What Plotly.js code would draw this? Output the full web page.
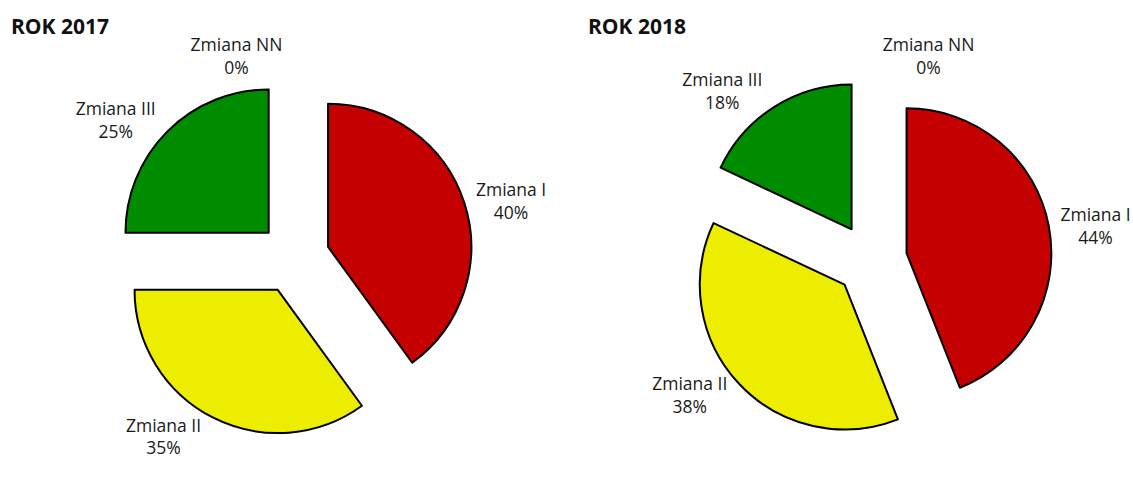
<!DOCTYPE html>
<html>
<head>
<meta charset="utf-8">
<script src="https://cdn.plot.ly/plotly-3.0.1.min.js"></script>
<style>
  html, body { margin: 0; padding: 0; background: #fff; }
  #chart { width: 1133px; height: 484px; }
</style>
</head>
<body>
<div id="chart"></div>
<script>
// shift names and shares for both years
var shifts = ["Zmiana I", "Zmiana II", "Zmiana III", "Zmiana NN"];
var values_2017 = [40, 35, 25, 0];
var values_2018 = [44, 38, 18, 0];
var colors = ["#c40000", "#eded00", "#008c00", "#7f7f7f"];

// one pie per year, every slice pulled out like in the workbook
function makePie(vals, domX, domY) {
    return {
        type: "pie",
        labels: shifts,
        values: vals,
        sort: false,
        direction: "clockwise",
        rotation: 0,
        pull: [0.25, 0.25, 0.25, 0.25],
        // the empty NN slice gets no outline, otherwise a stray line shows up
        marker: {colors: colors, line: {color: "#000", width: [2, 2, 2, 0]}},
        textposition: "outside",
        texttemplate: "%{label}<br>%{percent:.0%}",
        textfont: {family: "Open Sans", size: 17.5, color: "#1a1a1a"},
        hoverinfo: "label+percent",
        showlegend: false,
        domain: {x: domX, y: domY}
    };
}

var data = [
    makePie(values_2017, [0.1015, 0.4175], [0.097, 0.837]),
    makePie(values_2018, [0.609, 0.9285], [0.089, 0.837])
];

var layout = {
    width: 1133,
    height: 484,
    margin: {l: 0, r: 0, t: 0, b: 0},
    paper_bgcolor: "#fff",
    font: {family: "Open Sans"},
    annotations: [
        {text: "<b>ROK 2017</b>", x: 9 / 1133, y: 1 - 10 / 484, xref: "paper", yref: "paper",
         xanchor: "left", yanchor: "top", showarrow: false, font: {size: 21, color: "#111"}},
        {text: "<b>ROK 2018</b>", x: 586 / 1133, y: 1 - 10 / 484, xref: "paper", yref: "paper",
         xanchor: "left", yanchor: "top", showarrow: false, font: {size: 21, color: "#111"}}
    ]
};

Plotly.newPlot("chart", data, layout, {displayModeBar: false});
</script>
</body>
</html>
